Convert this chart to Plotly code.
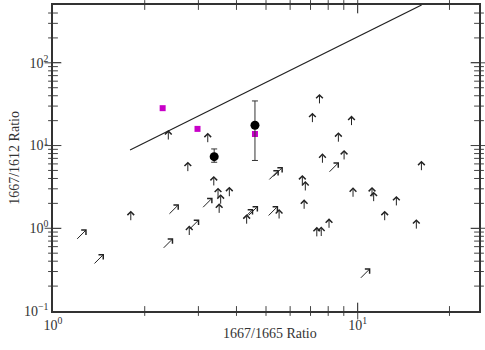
import numpy as np
import plotly.graph_objs as go

# lower limits on the 1667/1612 ratio only (vertical arrows), arrow tip positions
up_x = [2.39, 3.22, 2.77, 3.37, 3.48, 3.79, 3.55, 3.51, 7.49, 7.10, 9.54, 8.64,
        7.66, 9.02, 6.58, 6.73, 9.65, 11.14, 11.28, 13.39, 12.26, 15.57, 16.18,
        1.80, 2.80, 4.32, 5.52, 6.67, 7.34, 7.59, 8.05]
up_y = [15.4, 14.3, 6.39, 4.29, 3.10, 3.18, 2.58, 2.00, 42.1, 25.0, 23.0, 14.5,
        8.07, 8.85, 4.41, 3.73, 3.13, 3.16, 2.77, 2.46, 1.63, 1.29, 6.56,
        1.63, 1.08, 1.48, 1.71, 2.24, 1.04, 1.05, 1.32]

# lower limits on both ratios (diagonal arrows), arrow tip positions
diag_x = [1.29, 1.47, 2.48, 2.59, 3.02, 3.34, 4.71, 4.54, 5.48, 8.68, 5.51, 5.68, 11.0]
diag_y = [0.97, 0.489, 0.756, 1.95, 1.28, 2.34, 1.86, 1.71, 1.86, 6.28, 5.07, 5.51, 0.328]

# detections with errors
det_x = [3.38, 4.60]
det_y = [7.34, 17.6]
det_err_plus = [1.76, 17.0]
det_err_minus = [1.06, 11.0]

# magenta squares
sq_x = [2.29, 2.98, 4.60]
sq_y = [28.3, 15.9, 13.8]

# limit line
line_x = [1.79, 16.2]
line_y = [8.85, 500]

x_range = [1, 25]
y_range = [0.1, 500]
x_ticks = [1, 10]
x_labels = ['10<sup>0</sup>', '10<sup>1</sup>']
x_minor = [2, 3, 4, 5, 6, 7, 8, 9, 20]
y_ticks = [0.1, 1, 10, 100]
y_labels = ['10<sup>\u22121</sup>', '10<sup>0</sup>', '10<sup>1</sup>', '10<sup>2</sup>']
y_minor = [0.2, 0.3, 0.4, 0.5, 0.6, 0.7, 0.8, 0.9,
           2, 3, 4, 5, 6, 7, 8, 9,
           20, 30, 40, 50, 60, 70, 80, 90,
           200, 300, 400]

font = dict(family='Liberation Serif', size=14, color='#333333')
tick_color = '#444444'

fig = go.Figure()

# tick marks on all four sides drawn as line markers sitting on the frame
for vals, size in [(x_minor, 7), (x_ticks[1:], 12)]:
    for edge in y_range:
        fig.add_trace(go.Scatter(x=vals, y=[edge] * len(vals), mode='markers',
                                 marker=dict(symbol='line-ns', size=size,
                                             line=dict(color=tick_color, width=1)),
                                 cliponaxis=False, showlegend=False, hoverinfo='skip'))
for vals, size in [(y_minor, 7), (y_ticks[1:], 12)]:
    for edge in x_range:
        fig.add_trace(go.Scatter(x=[edge] * len(vals), y=vals, mode='markers',
                                 marker=dict(symbol='line-ew', size=size,
                                             line=dict(color=tick_color, width=1)),
                                 cliponaxis=False, showlegend=False, hoverinfo='skip'))

fig.add_trace(go.Scatter(x=line_x, y=line_y, mode='lines',
                         line=dict(color='#222222', width=1.2), showlegend=False))

fig.add_trace(go.Scatter(x=sq_x, y=sq_y, mode='markers',
                         marker=dict(symbol='square', size=6, color='#c800c8'),
                         showlegend=False))

fig.add_trace(go.Scatter(x=det_x, y=det_y, mode='markers',
                         marker=dict(symbol='circle', size=9, color='black'),
                         error_y=dict(type='data', symmetric=False, array=det_err_plus,
                                      arrayminus=det_err_minus, color='#333333',
                                      thickness=1, width=3),
                         showlegend=False))

for x, y in zip(up_x, up_y):
    fig.add_annotation(x=np.log10(x), y=np.log10(y), ax=0, ay=11, text='',
                       showarrow=True, arrowhead=4, arrowsize=1.3, arrowwidth=1,
                       arrowcolor='#222222')

for x, y in zip(diag_x, diag_y):
    fig.add_annotation(x=np.log10(x), y=np.log10(y), ax=-11, ay=11, text='',
                       showarrow=True, arrowhead=4, arrowsize=1.3, arrowwidth=1,
                       arrowcolor='#222222')

# axis titles
fig.add_annotation(text='1667/1665 Ratio', xref='paper', yref='paper', x=0.509, y=-0.072,
                   xanchor='center', yanchor='middle', showarrow=False, font=font)
fig.add_annotation(text='1667/1612 Ratio', xref='paper', yref='paper', x=-0.092, y=0.5,
                   xanchor='center', yanchor='middle', textangle=-90, showarrow=False, font=font)

axis_style = dict(type='log', showgrid=False, zeroline=False, showline=True,
                  linecolor='#333333', linewidth=1.5, mirror='allticks',
                  ticks='inside', ticklen=8, tickcolor=tick_color, tickwidth=1,
                  automargin=False, tickfont=font)

fig.update_xaxes(range=np.log10(x_range), tickmode='array', tickvals=x_ticks,
                 ticktext=x_labels, **axis_style)
fig.update_yaxes(range=np.log10(y_range), tickmode='array', tickvals=y_ticks,
                 ticktext=y_labels, **axis_style)

fig.update_layout(width=485, height=350, margin=dict(l=53, r=6, t=5, b=39),
                  plot_bgcolor='white', paper_bgcolor='white')

# page body has a default margin, drop it so the figure fills the window
fig.write_html("out.html", config={'displayModeBar': False},
               post_script="document.body.style.margin='0';")
